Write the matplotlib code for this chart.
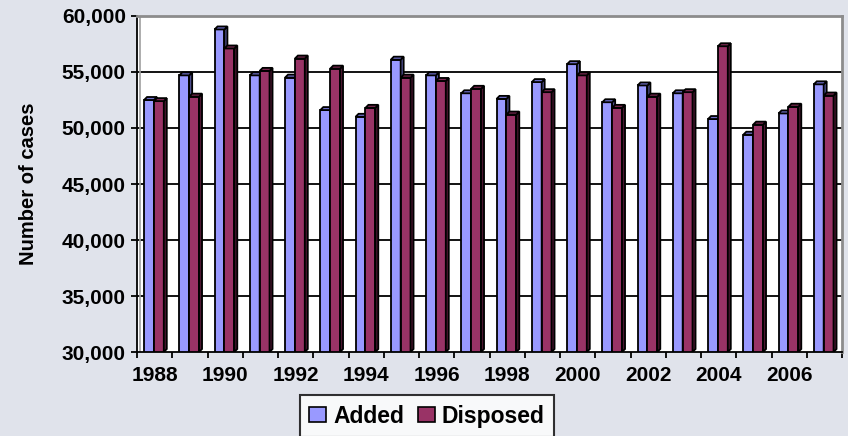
import matplotlib.pyplot as plt
from matplotlib.patches import Polygon, Patch
from matplotlib.ticker import FuncFormatter, FixedLocator

years = list(range(1988, 2008))
added = [52500, 54700, 58800, 54700, 54500, 51600, 51000, 56100, 54700, 53100,
         52600, 54100, 55700, 52300, 53800, 53100, 50800, 49400, 51300, 53900]
disposed = [52400, 52800, 57100, 55100, 56200, 55300, 51800, 54500, 54200, 53500,
            51200, 53200, 54700, 51800, 52800, 53200, 57300, 50300, 51900, 52900]
series = ['Added', 'Disposed']

BG = '#E0E3EB'
# front, top, side colours per series
colors = {
    'Added': ('#9999FF', '#6E6EC8', '#55559A'),
    'Disposed': ('#993366', '#7A2850', '#4A1630'),
}

plt.rcParams['font.family'] = ['Liberation Sans', 'DejaVu Sans']
plt.rcParams['font.weight'] = 'bold'

fig = plt.figure(figsize=(8.48, 4.36), dpi=100, facecolor=BG)
ax = fig.add_axes([137 / 848, 84 / 436, 705 / 848, 336 / 436])
ax.set_facecolor('white')

ymin, ymax = 30000, 60000
ax.set_xlim(-0.5, len(years) - 0.5)
ax.set_ylim(ymin, ymax)

# pseudo 3d depth: ~3px to the right and ~3px up
dx = 3 / 35.25
dy = 3 * (ymax - ymin) / 336
w = 0.28
offsets = {'Added': -0.30, 'Disposed': -0.02}

for y in range(35000, 60000, 5000):
    ax.axhline(y, color='black', lw=1.3, zorder=1)

for i, yr in enumerate(years):
    for name, vals in (('Added', added), ('Disposed', disposed)):
        front, top, side = colors[name]
        x0 = i + offsets[name]
        v = vals[i]
        ax.bar(x0, v - ymin, width=w, bottom=ymin, align='edge', color=front,
               edgecolor='black', linewidth=1.3, zorder=3)
        ax.add_patch(Polygon([[x0 + w, ymin], [x0 + w + dx, ymin + dy],
                              [x0 + w + dx, v + dy], [x0 + w, v]],
                             closed=True, facecolor=side, edgecolor='black',
                             linewidth=1.3, zorder=3))
        ax.add_patch(Polygon([[x0, v], [x0 + dx, v + dy],
                              [x0 + w + dx, v + dy], [x0 + w, v]],
                             closed=True, facecolor=top, edgecolor='black',
                             linewidth=1.3, zorder=3))

# axes frame
for s in ('top', 'right'):
    ax.spines[s].set_color('#8C8C8C')
    ax.spines[s].set_linewidth(2)
for s in ('left', 'bottom'):
    ax.spines[s].set_color('black')
    ax.spines[s].set_linewidth(1.3)
ax.axvline(-0.5 + dx, color='#A0A0A0', lw=1.2, zorder=1)

ax.set_yticks(range(30000, 60001, 5000))
ax.yaxis.set_major_formatter(FuncFormatter(lambda v, p: f'{int(v):,}'))
ax.tick_params(axis='y', length=4, width=1.3, pad=4, labelsize=15)

ax.set_xticks(range(0, len(years), 2))
ax.set_xticklabels([str(y) for y in years[::2]])
ax.xaxis.set_minor_locator(FixedLocator([i - 0.5 for i in range(len(years) + 1)]))
ax.tick_params(axis='x', which='major', length=0, pad=10, labelsize=15)
ax.tick_params(axis='x', which='minor', length=4, width=1.3)

ax.set_ylabel('Number of cases', fontsize=14.5, fontweight='bold')
ax.yaxis.set_label_coords(-99 / 705, (184 - 16) / 336 * -1 + 1)

handles = [Patch(facecolor=colors[n][0], edgecolor='black', linewidth=1.2) for n in series]
leg = fig.legend(handles, series, loc='center', bbox_to_anchor=(427 / 848, 1 - 416 / 436),
                 ncol=2, frameon=True, fancybox=False, fontsize=16.5,
                 handlelength=0.75, handleheight=0.65, handletextpad=0.3,
                 columnspacing=0.6, borderpad=0.4)
leg.get_frame().set_edgecolor('black')
leg.get_frame().set_linewidth(1.5)
leg.get_frame().set_facecolor('white')

fig.savefig('out.png', dpi=100, facecolor=BG)
